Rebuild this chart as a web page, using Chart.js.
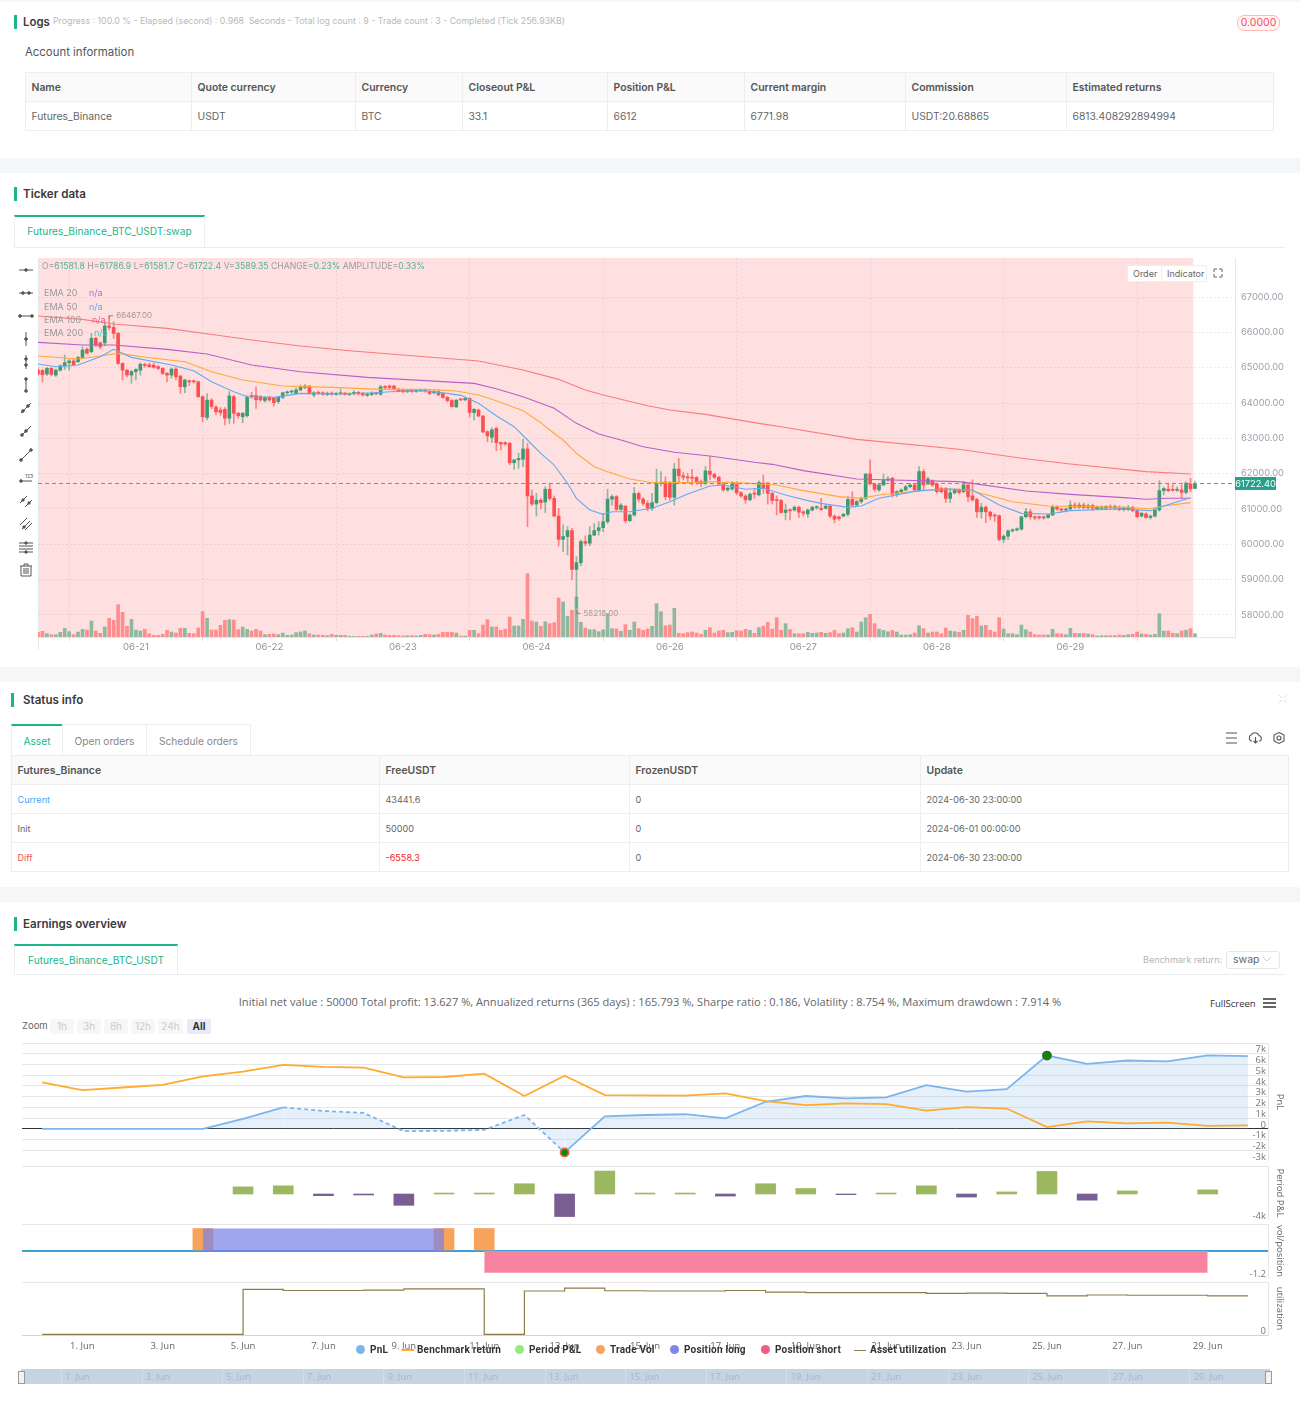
<!DOCTYPE html>
<html>
<head>
<meta charset="utf-8">
<title>Backtest result</title>
<script src="https://cdn.jsdelivr.net/npm/chart.js@4/dist/chart.umd.min.js"></script>
<style>
html, body { margin: 0; padding: 0; background: #fff; }
body { position: relative; width: 1300px; height: 1407px; overflow: hidden; font-family: Inter, "Noto Sans", sans-serif; color: #555; }
.t { position: absolute; white-space: nowrap; line-height: 14px; font-size: 11px; }
.band { position: absolute; left: 0; width: 1300px; height: 15px; background: #f5f6f8; }
.bar { position: absolute; width: 3px; height: 14px; background: #1cb58a; }
.h { font-size: 11.6px; font-weight: 600; color: #3a3a3a; }
.tab { position: absolute; box-sizing: border-box; border: 1px solid #eee; border-bottom: 0; text-align: center; font-size: 10.2px; color: #888; line-height: 29px; }
.tab.on { border-top: 2px solid #1cb58a; color: #1cb58a; }
.rule { position: absolute; height: 1px; background: #e9ecef; }
table { position: absolute; border-collapse: collapse; table-layout: fixed; font-size: 10.3px; color: #666; }
th, td { border: 1px solid #eee; padding: 0 0 0 5.5px; text-align: left; height: 28px; white-space: nowrap; }
th { background: #fafafa; font-weight: 600; color: #555; font-size: 10.4px; }
table.small td { font-size: 9.1px; }
canvas { position: absolute; display: block; }
.zb { position: absolute; top: 1019px; height: 15px; line-height: 15px; font-size: 10px; text-align: center; background: #f7f7f7; color: #ccc; border-radius: 2px; }
.leg { position: absolute; top: 1343px; font-size: 10px; font-weight: 700; color: #333; line-height: 14px; white-space: nowrap; font-family: Roboto, sans-serif; letter-spacing: .2px; }
.dot { position: absolute; top: 1345px; width: 9px; height: 9px; border-radius: 50%; }
.nav { position: absolute; top: 1369px; left: 21px; width: 1249px; height: 15px; background: #c6d3e3; }
.nl { position: absolute; top: 1371px; font-size: 9.5px; line-height: 12px; color: #a9b6c8; font-family: "Open Sans", sans-serif; }
.over { position: absolute; z-index: 5; }
</style>
</head>
<body>
<div class="band" style="top:0;height:2px"></div>
<div class="band" style="top:158px"></div>
<div class="band" style="top:667px"></div>
<div class="band" style="top:887px"></div>

<div class="bar" style="left:14px;top:15px"></div>
<div class="t h" style="left:23px;top:15px;font-size:11.4px">Logs</div>
<div class="t" style="left:53px;top:14px;font-size:8.8px;color:#b9b9b9">Progress : 100.0 % - Elapsed (second) : 0.968 &nbsp;Seconds - Total log count : 9 - Trade count : 3 - Completed (Tick 256.93KB)</div>
<div class="t" style="left:1237px;top:15px;width:41px;height:14px;border:1px solid #fbb;border-radius:7px;background:#fff5f5;color:#f5515f;text-align:center;font-size:10.5px">0.0000</div>
<div class="t" style="left:25px;top:45px;font-size:11.4px;color:#555">Account information</div>
<table style="left:25px;top:72px;width:1248px">
<colgroup><col style="width:166px"><col style="width:164px"><col style="width:107px"><col style="width:145px"><col style="width:137px"><col style="width:161px"><col style="width:161px"><col style="width:207px"></colgroup>
<tr><th>Name</th><th>Quote currency</th><th>Currency</th><th>Closeout P&amp;L</th><th>Position P&amp;L</th><th>Current margin</th><th>Commission</th><th>Estimated returns</th></tr>
<tr><td>Futures_Binance</td><td>USDT</td><td>BTC</td><td>33.1</td><td>6612</td><td>6771.98</td><td>USDT:20.68865</td><td>6813.408292894994</td></tr>
</table>

<div class="bar" style="left:14px;top:187px"></div>
<div class="t h" style="left:23px;top:187px">Ticker data</div>
<div class="rule" style="left:14px;top:247px;width:1271px"></div>
<div class="tab on" style="left:14px;top:215px;width:191px;height:32px;color:#1cb58a">Futures_Binance_BTC_USDT:swap</div>

<div id="tools"></div>
<canvas id="main" width="1252" height="399" style="left:38px;top:258px;width:1252px;height:399px"></canvas>
<div class="t over" style="left:42px;top:259px;font-size:8.65px;color:#9a9a9a">O=<span style="color:#4fb58e">61581.8</span> H=<span style="color:#4fb58e">61786.9</span> L=<span style="color:#4fb58e">61581.7</span> C=<span style="color:#4fb58e">61722.4</span> V=<span style="color:#4fb58e">3589.35</span> CHANGE=<span style="color:#4fb58e">0.23%</span> AMPLITUDE=<span style="color:#4fb58e">0.33%</span></div>
<div class="t over" style="left:44px;top:286px;font-size:9px;color:#999">EMA 20<span style="position:absolute;left:45px;color:#b56fd0">n/a</span></div>
<div class="t over" style="left:44px;top:300px;font-size:9px;color:#999">EMA 50<span style="position:absolute;left:45px;color:#5ba8ee">n/a</span></div>
<div class="t over" style="left:44px;top:313px;font-size:9px;color:#999">EMA 100<span style="position:absolute;left:48px;color:#ef5a8c">n/a</span></div>
<div class="t over" style="left:44px;top:326px;font-size:9px;color:#999">EMA 200<span style="position:absolute;left:50px;color:#3cc0c0">n/a</span></div>
<div class="over" style="left:1127px;top:265px;width:80px;height:17px;background:#fff;border:1px solid #eee;box-sizing:border-box;border-radius:2px;font-size:9px;line-height:15px;color:#666"><span style="position:absolute;left:5px">Order</span><span style="position:absolute;left:33px;top:0;height:15px;border-left:1px solid #eee;padding-left:5px">Indicator</span></div>
<svg class="over" style="left:1213px;top:268px" width="10" height="10" stroke="#666" fill="none"><path d="M1 4V1H4M6 1H9V4M9 6V9H6M4 9H1V6"/></svg>

<div class="bar" style="left:11px;top:693px"></div>
<div class="t h" style="left:23px;top:693px">Status info</div>
<svg class="over" style="left:1278px;top:694px" width="10" height="10" stroke="#ddd" fill="none"><path d="M1 1L4 4M9 1L6 4M1 9L4 6M9 9L6 6"/></svg>
<div class="tab on" style="left:11px;top:724px;width:52px;height:31px;line-height:30px">Asset</div>
<div class="tab" style="left:62px;top:724px;width:85px;height:31px;line-height:32px">Open orders</div>
<div class="tab" style="left:146px;top:724px;width:105px;height:31px;line-height:32px">Schedule orders</div>
<svg class="over" style="left:1225px;top:731px" width="62" height="14" stroke="#555" fill="none" stroke-width="1.1">
<path d="M1 2H12M1 7H12M1 12H12"/>
<path d="M27 10H26A3.5 3.5 0 0 1 26 4A4.5 4.5 0 0 1 34 4.5A3 3 0 0 1 35 10H34M30.5 6V12M28.5 10L30.5 12L32.5 10"/>
<path d="M54 1.5L59 4V10L54 12.5L49 10V4Z"/><circle cx="54" cy="7" r="2"/></svg>
<table class="small" style="left:11px;top:755px;width:1277px">
<colgroup><col style="width:368px"><col style="width:250px"><col style="width:291px"><col style="width:368px"></colgroup>
<tr><th>Futures_Binance</th><th>FreeUSDT</th><th>FrozenUSDT</th><th>Update</th></tr>
<tr><td style="color:#4aa3f5">Current</td><td>43441.6</td><td>0</td><td>2024-06-30 23:00:00</td></tr>
<tr><td>Init</td><td>50000</td><td>0</td><td>2024-06-01 00:00:00</td></tr>
<tr><td style="color:#f5515f">Diff</td><td style="color:#f5222d">-6558.3</td><td>0</td><td>2024-06-30 23:00:00</td></tr>
</table>

<div class="bar" style="left:14px;top:917px"></div>
<div class="t h" style="left:23px;top:917px">Earnings overview</div>
<div class="rule" style="left:14px;top:974px;width:1271px"></div>
<div class="tab on" style="left:14px;top:944px;width:164px;height:31px">Futures_Binance_BTC_USDT</div>
<div class="t" style="left:1143px;top:953px;font-size:9px;color:#b5b5b5">Benchmark return:</div>
<div class="t" style="left:1226px;top:951px;width:52px;height:16px;border:1px solid #e6e6e6;border-radius:3px;box-sizing:content-box;font-size:10.5px;color:#666;line-height:16px;text-indent:6px">swap</div>
<svg class="over" style="left:1262px;top:956px" width="10" height="7" stroke="#ccc" fill="none"><path d="M1 1L5 5L9 1"/></svg>
<div class="t" style="left:0;width:1300px;top:995px;text-align:center;font-size:11.1px;color:#666;font-family:'Open Sans',sans-serif">Initial net value : 50000 Total profit: 13.627 %, Annualized returns (365 days) : 165.793 %, Sharpe ratio : 0.186, Volatility : 8.754 %, Maximum drawdown : 7.914 %</div>
<div class="t" style="left:1210px;top:997px;font-size:9.5px;color:#333;font-family:'Open Sans',sans-serif">FullScreen</div>
<svg class="over" style="left:1263px;top:998px" width="13" height="10" stroke="#666" stroke-width="2"><path d="M0 1H13M0 5H13M0 9H13"/></svg>
<div class="t" style="left:22px;top:1019px;font-size:9.5px;color:#666">Zoom</div>
<div class="zb" style="left:50px;width:24px">1h</div>
<div class="zb" style="left:77px;width:24px">3h</div>
<div class="zb" style="left:104px;width:24px">8h</div>
<div class="zb" style="left:131px;width:24px">12h</div>
<div class="zb" style="left:158px;width:25px">24h</div>
<div class="zb" style="left:187px;width:24px;background:#e6ebf5;color:#333;font-weight:700">All</div>

<canvas id="paneA" width="1268" height="118" style="left:22px;top:1043px;width:1268px;height:118px"></canvas>
<canvas id="paneB" width="1268" height="54" style="left:22px;top:1166px;width:1268px;height:54px"></canvas>
<canvas id="paneC" width="1268" height="54" style="left:22px;top:1224px;width:1268px;height:54px"></canvas>
<canvas id="paneD" width="1268" height="75" style="left:22px;top:1282px;width:1268px;height:75px"></canvas>

<div class="dot" style="left:356px;background:#7cb5ec"></div><div class="leg" style="left:370px">PnL</div>
<div class="over" style="left:402px;top:1349px;width:12px;height:2px;background:#ffab2e"></div><div class="leg" style="left:417px">Benchmark return</div>
<div class="dot" style="left:515px;background:#90ed7d"></div><div class="leg" style="left:529px">Period P&amp;L</div>
<div class="dot" style="left:596px;background:#f7a35c"></div><div class="leg" style="left:610px">Trade Vol</div>
<div class="dot" style="left:670px;background:#8085e9"></div><div class="leg" style="left:684px">Position long</div>
<div class="dot" style="left:761px;background:#f15c80"></div><div class="leg" style="left:775px">Position short</div>
<div class="over" style="left:854px;top:1350px;width:12px;height:1px;background:#8c7d4b"></div><div class="leg" style="left:870px">Asset utilization</div>

<div class="nav" id="nav"></div>
<div id="navLabels"></div>

<script>
// candles
const opens = [
  64930,64920,64820,64980,64790,64930,65050,65140,65190,65170,
  65290,65520,65450,65830,65700,65700,66180,66140,65970,65120,
  64930,64790,64890,64930,65080,65080,65070,65030,64980,64840,
  64790,64960,64760,64460,64630,64630,64600,64180,63590,64080,
  63880,63800,63820,63570,64180,63710,63610,63640,64210,64210,
  64180,64070,64160,64130,64040,64160,64290,64310,64270,64370,
  64440,64480,64230,64300,64290,64240,64280,64240,64260,64280,
  64240,64260,64300,64270,64220,64240,64280,64250,64460,64480,
  64480,64390,64360,64320,64350,64330,64350,64370,64330,64290,
  64320,64270,64160,64070,63890,64110,64090,64130,63730,63800,
  63630,63190,63030,63280,62880,62880,62860,62310,62390,62410,
  62700,61370,61140,61250,61200,61560,61300,60800,60140,60220,
  60390,59290,59480,60080,60030,60260,60390,60470,60640,61280,
  61350,60990,61080,60670,60830,61440,61280,61160,61020,61180,
  61730,61770,61730,61330,62130,61940,61900,61900,61890,61780,
  61730,62070,61980,61900,61710,61540,61570,61700,61460,61370,
  61260,61440,61400,61730,61730,61440,61250,61240,60900,60970,
  60970,61050,60920,60860,60970,61040,61020,61020,61080,60800,
  60780,60800,60850,61270,61110,61210,61300,61990,61710,61540,
  61680,61820,61870,61420,61490,61540,61630,61680,61520,62060,
  61710,61800,61710,61580,61580,61300,61460,61540,61490,61680,
  61370,61270,60920,61050,60910,60830,60810,60140,60230,60380,
  60410,60430,60780,60920,60780,60780,60780,60760,60830,61050,
  61000,60970,61000,61110,61050,61110,61040,61100,61010,61020,
  61020,61070,61020,61050,60980,60980,61050,60950,60800,60860,
  60760,60800,60970,61520,61560,61550,61530,61540,61470,61700,61581.8
];
const closes = [
  64820,64800,64980,64810,64930,65050,65140,65190,65080,65290,
  65500,65410,65830,65640,65590,66180,66140,65970,65120,64930,
  64790,64890,64950,65100,65060,65030,65010,64980,64840,64790,
  64960,64740,64460,64650,64600,64600,64180,63610,64080,63900,
  63750,63730,63570,64200,63710,63640,63710,64160,64180,64090,
  64090,64150,64090,64010,64160,64290,64310,64320,64370,64440,
  64480,64270,64290,64270,64250,64280,64250,64270,64280,64240,
  64260,64300,64260,64230,64250,64280,64260,64460,64440,64440,
  64390,64340,64320,64350,64330,64360,64380,64340,64270,64320,
  64230,64160,64070,63900,64080,64090,64130,63730,63820,63630,
  63180,63070,63240,62880,62840,62840,62310,62390,62430,62700,
  61370,61140,61250,61180,61560,61300,60800,60140,60220,60390,
  59290,59480,60080,60030,60260,60390,60470,60640,61280,61350,
  60990,61110,60670,60830,61440,61280,61160,61020,61180,61730,
  61750,61350,61330,62130,61940,61900,61880,61870,61760,61730,
  62080,61980,61900,61710,61540,61590,61700,61460,61370,61260,
  61420,61420,61750,61580,61440,61240,61240,60900,60970,60950,
  61050,60910,60880,60970,61050,61050,60990,61080,60800,60710,
  60730,60850,61270,61110,61210,61300,61990,61710,61560,61680,
  61820,61840,61420,61490,61540,61630,61680,61540,62060,61680,
  61850,61680,61490,61490,61300,61460,61540,61470,61680,61350,
  61260,60920,61050,60920,60800,60800,60140,60230,60380,60410,
  60430,60780,60920,60780,60750,60750,60750,60830,61050,61000,
  60970,61000,61110,61050,61110,61040,61090,61020,61050,61050,
  61070,61040,61070,60980,61020,61050,60950,60780,60880,60760,
  60800,60970,61520,61580,61520,61530,61550,61470,61730,61570,61722.4
];
const highs = [
  64980,64950,65000,65000,64960,65080,65360,65230,65230,65320,
  65590,65560,65970,65860,65730,66300,66467,66300,66000,65140,
  64950,64920,64970,65130,65130,65130,65130,65060,65000,64860,
  64990,65000,64790,64680,64650,64650,64620,64200,64270,64130,
  63930,63870,63870,64320,64220,63730,63730,64200,64300,64460,
  64210,64180,64200,64160,64190,64310,64340,64370,64420,64510,
  64520,64500,64320,64340,64320,64310,64320,64300,64400,64300,
  64290,64350,64330,64300,64280,64320,64310,64500,64500,64510,
  64500,64420,64400,64370,64380,64390,64400,64400,64350,64370,
  64380,64290,64180,64090,64100,64120,64170,64150,63840,63830,
  63650,63210,63300,63320,62900,62900,62880,62400,62580,62970,
  62860,61540,61440,61290,61630,61730,61370,61020,60550,60500,
  60450,59650,60120,60240,60500,60590,60640,60880,61560,61400,
  61380,61150,61100,60860,61610,61480,61320,61230,61440,62130,
  62060,61910,61780,62290,62430,62030,62010,62120,61920,61820,
  62200,62480,62010,61930,61740,61620,61780,61780,61490,61400,
  61450,61580,61800,61960,61760,61470,61370,61270,61140,61000,
  61090,61080,60950,61000,61080,61090,61300,61120,61110,60830,
  60800,60880,61350,61490,61250,61340,62000,62390,61730,61710,
  61990,61920,61900,61520,61570,61670,61710,61720,62200,62120,
  61900,61830,61730,61620,61610,61580,61580,61570,61780,61720,
  61820,61300,61160,61080,60940,60860,60830,60260,60410,60440,
  60470,60800,61020,60990,60800,60800,60800,60850,61110,61090,
  61030,61030,61230,61180,61180,61170,61140,61140,61090,61090,
  61100,61120,61110,61090,61070,61100,61080,60980,60910,60890,
  60830,61010,61800,61610,61730,61690,61630,61680,61770,61870,61786.9
];
const lows = [
  64780,64600,64780,64770,64750,64900,64950,64930,65060,65140,
  65270,65380,65420,65600,65530,65620,66070,65830,65090,64650,
  64740,64560,64650,64790,65010,65000,64980,64950,64800,64600,
  64700,64650,64270,64290,64490,64560,64160,63470,63520,63840,
  63660,63650,63380,63420,63420,63570,63440,63600,64130,63850,
  64040,64020,64040,63910,63990,64120,64250,64270,64240,64340,
  64400,64240,64170,64240,64220,64210,64220,64220,64220,64220,
  64210,64230,64230,64190,64180,64210,64230,64220,64400,64410,
  64360,64320,64290,64290,64300,64300,64320,64310,64230,64260,
  64210,64130,64030,63880,63870,64060,64060,63600,63520,63610,
  63160,62900,62880,62650,62670,62800,62250,62120,62150,62200,
  60500,61100,60800,61000,60900,61250,60780,59950,59790,59700,
  58990,58218,59390,59960,59960,60240,60260,60360,60590,61110,
  60960,60950,60610,60640,60800,61200,61100,60950,60950,61140,
  61650,61260,61250,61110,61730,61820,61730,61680,61700,61630,
  61680,61820,61860,61680,61500,61500,61520,61400,61330,61160,
  61230,61300,61370,61440,61140,61140,60830,60880,60690,60690,
  60940,60760,60800,60760,60940,60990,60950,61000,60750,60610,
  60680,60770,60800,61080,61080,61160,61270,61680,61500,61500,
  61660,61780,61340,61350,61460,61510,61600,61500,61490,61540,
  61680,61640,61450,61450,61180,61180,61420,61430,61450,61210,
  61220,60760,60740,60610,60690,60640,60100,60050,60140,60350,
  60380,60400,60750,60710,60690,60710,60710,60730,60810,60960,
  60900,60920,60970,61020,61020,61010,61000,60960,60980,60990,
  60990,61000,60990,60950,60940,60950,60920,60760,60770,60740,
  60710,60770,60940,61400,61490,61500,61500,61300,61430,61490,61581.7
];
const volumes = [
  14,17,10,7,7,14,26,16,7,15,
  23,21,48,18,11,30,56,50,97,74,
  32,53,21,18,23,10,5,5,8,20,
  15,12,26,26,11,10,27,76,56,21,
  21,35,50,52,51,22,30,23,18,23,
  18,7,8,9,7,12,5,6,13,15,
  18,10,6,6,5,4,8,5,5,5,
  2,2,2,2,2,6,9,11,6,5,
  5,4,3,4,4,3,5,8,7,6,
  8,14,14,14,12,3,3,20,20,10,
  36,52,30,30,20,24,60,33,33,53,
  190,48,45,32,46,40,43,117,105,62,
  80,120,44,27,22,22,16,22,70,25,
  24,17,37,20,45,25,20,24,32,100,
  76,34,36,86,11,10,13,15,12,8,
  20,28,12,18,20,13,14,19,18,23,
  20,11,28,33,44,24,58,20,40,22,
  10,10,10,14,11,12,14,11,13,20,
  10,12,25,28,15,45,58,68,40,24,
  20,16,20,15,6,6,7,12,34,25,
  12,15,15,10,27,18,16,14,20,65,
  55,62,33,35,20,15,58,24,10,10,
  7,36,22,15,7,6,6,6,23,10,
  9,7,26,11,10,11,9,7,3,4,
  4,4,4,6,5,7,8,15,9,8,
  6,8,70,18,18,11,10,18,20,25,10
];

// moving averages, [candle, price] at the places they were read
const emaBlue = [[0,65103],[4,65028],[9,65075],[14,65311],[17,65518],[19,65405],[21,65292],[30,65075],[35,64915],[39,64603],[44,64320],[47,64179],[53,64160],[59,64273],[66,64254],[76,64292],[79,64320],[87,64348],[92,64273],[95,64216],[99,63990],[103,63641],[107,63330],[110,62953],[113,62576],[116,62245],[119,61726],[121,61302],[124,60972],[127,60849],[129,60924],[133,60924],[138,61019],[142,61207],[146,61425],[151,61651],[154,61679],[159,61557],[163,61585],[168,61396],[173,61236],[176,61160],[182,61047],[185,61085],[189,61302],[198,61519],[205,61566],[210,61538],[216,61113],[221,60877],[227,60858],[232,60953],[243,61000],[250,60953],[253,61085],[259,61321]];
const emaOrange = [[0,65330],[9,65245],[14,65330],[18,65405],[25,65282],[33,65169],[39,64886],[46,64650],[55,64480],[66,64443],[77,64386],[87,64386],[94,64339],[99,64226],[103,64066],[109,63783],[113,63443],[115,63236],[118,62953],[121,62576],[125,62198],[128,62057],[133,61849],[138,61745],[145,61745],[152,61773],[160,61726],[166,61679],[172,61519],[180,61349],[185,61302],[189,61396],[198,61509],[203,61557],[209,61537],[214,61377],[219,61207],[227,61085],[236,61066],[244,61047],[250,61009],[253,61085],[259,61179]];
const emaPurple = [[0,65717],[10,65641],[17,65641],[29,65518],[38,65386],[48,65075],[59,64886],[74,64726],[87,64632],[98,64556],[103,64405],[109,64179],[116,63849],[121,63424],[126,63122],[131,62953],[136,62764],[143,62604],[151,62500],[161,62321],[165,62264],[172,62085],[184,61849],[192,61821],[207,61774],[210,61726],[222,61509],[232,61415],[244,61321],[249,61274],[254,61302],[259,61302]];
const emaRed = [[0,66462],[10,66368],[17,66235],[29,66113],[40,65924],[48,65783],[59,65613],[70,65481],[87,65311],[99,65188],[109,64934],[117,64669],[123,64367],[127,64226],[137,63924],[142,63801],[150,63679],[162,63424],[167,63330],[184,62971],[207,62689],[221,62434],[232,62274],[249,62057],[259,61990]];

const lastPrice = 61722.4;
const highPrice = 66467;
const lowPrice = 58218;
const highCandle = 16;
const lowCandle = 121;
const shadeEnd = 259.6;
const slotCount = 270;
const priceTicks = [58000,59000,60000,61000,62000,63000,64000,65000,66000,67000];
const tickCandles = [22,52,82,112,142,172,202,232];
const tickNames = ['06-21','06-22','06-23','06-24','06-26','06-27','06-28','06-29'];

// earnings panes, one value per day
const days = ['31. May','1. Jun','2. Jun','3. Jun','4. Jun','5. Jun','6. Jun','7. Jun','8. Jun','9. Jun','10. Jun','11. Jun','12. Jun','13. Jun','14. Jun','15. Jun','16. Jun','17. Jun','18. Jun','19. Jun','20. Jun','21. Jun','22. Jun','23. Jun','24. Jun','25. Jun','26. Jun','27. Jun','28. Jun','29. Jun','30. Jun'];
const pnl = [0,0,0,0,0,930,2000,1670,1480,-220,-190,-100,1290,-2200,1170,1290,1360,980,2520,3060,2840,2930,4070,3470,3690,6830,6060,6370,6280,6850,6780];
const benchmark = [4320,3600,3850,4100,4890,5330,5960,5770,5710,4790,4830,5140,3060,4950,3150,3120,3090,3310,2590,2210,2370,2300,1700,2020,1890,160,690,500,570,280,320];
const periodPnl = [null,null,null,null,null,1100,1260,-260,-150,-1740,150,150,1580,-3470,3530,150,150,-320,1580,840,-100,150,1260,-470,320,3470,-950,470,null,630,null];
const tradeVol = [null,null,null,null,1,null,null,null,null,null,1,1,null,null,null,null,null,null,null,null,null,null,null,null,null,null,null,null,null,null,null];
const positionLong = [null,null,null,null,1,1,1,1,1,1,1,null,null,null,null,null,null,null,null,null,null,null,null,null,null,null,null,null,null,null,null];
const positionShort = [null,null,null,null,null,null,null,null,null,null,null,-0.97,-0.97,-0.97,-0.97,-0.97,-0.97,-0.97,-0.97,-0.97,-0.97,-0.97,-0.97,-0.97,-0.97,-0.97,-0.97,-0.97,-0.97,-0.97,null];
const utilization = [1,1,1,1,1,86,84,84,84.5,87,87,1,83,88.5,83.5,83,83,84,81,80,80,80,78.5,79,78.5,74,75.5,75,75,74,74];
const pnlTicks = [-3000,-2000,-1000,0,1000,2000,3000,4000,5000,6000,7000,8000];
const markerDays = [13,25];
const dashedFrom = 6;
const dashedTo = 13;

const upColor = '#3d9b72';
const downColor = '#fd4f52';
const font = 'Inter, sans-serif';
const hcFont = '"Open Sans", sans-serif';

Chart.defaults.animation = false;
Chart.defaults.responsive = false;
Chart.defaults.plugins.legend.display = false;
Chart.defaults.plugins.tooltip.enabled = false;

function sparse(points, size) {
  const out = new Array(size).fill(null);
  points.forEach(function (p) { out[p[0]] = p[1]; });
  return out;
}

function noPad(scale, size) {
  scale.paddingTop = 0; scale.paddingBottom = 0; scale.paddingLeft = 0; scale.paddingRight = 0;
  if (scale.isHorizontal()) { scale.height = size; } else { scale.width = size; }
}

function fixedTicks(values) {
  return function (s) { s.ticks = values.map(function (v) { return { value: v }; }); };
}

function emaSet(points, color) {
  return { type: 'line', data: sparse(points, slotCount), borderColor: color, borderWidth: 1.1, pointRadius: 0, spanGaps: true, order: 2 };
}

const candleLabels = Array.from({ length: slotCount }, function (_, i) {
  const at = tickCandles.indexOf(i);
  return at >= 0 ? tickNames[at] : String(i);
});
const candleColor = closes.map(function (c, i) { return c >= opens[i] ? upColor : downColor; });
const wickColor = closes.map(function (c, i) { return c >= opens[i] ? 'rgba(61,155,114,0.6)' : 'rgba(253,79,82,0.65)'; });
const volumeColor = closes.map(function (c, i) { return c >= opens[i] ? '#8fb8a0' : '#fe8d8e'; });

const mainDecor = {
  id: 'mainDecor',
  beforeDraw: function (chart) {
    const c = chart.ctx, a = chart.chartArea, x = chart.scales.x;
    c.save();
    c.fillStyle = '#ffe0e0';
    c.fillRect(a.left, a.top, x.getPixelForValue(shadeEnd) - a.left, a.bottom - a.top);
    c.strokeStyle = '#e4e7ec';
    c.beginPath();
    c.moveTo(a.left + 0.5, a.top);
    c.lineTo(a.left + 0.5, a.bottom + 13);
    c.stroke();
    c.restore();
  },
  afterDatasetsDraw: function (chart) {
    const c = chart.ctx, x = chart.scales.x, y = chart.scales.y, a = chart.chartArea;
    c.save();
    c.font = '8px ' + font;
    c.textBaseline = 'middle';
    c.fillStyle = '#a3979a';
    c.strokeStyle = '#8c8486';
    const hx = x.getPixelForValue(highCandle), hy = y.getPixelForValue(highPrice);
    c.beginPath();
    c.moveTo(hx, hy + 3); c.lineTo(hx, hy); c.lineTo(hx + 4, hy);
    c.stroke();
    c.fillText(highPrice.toFixed(2), hx + 7, hy);
    const lx = x.getPixelForValue(lowCandle), ly = y.getPixelForValue(lowPrice) + 6;
    c.beginPath();
    c.moveTo(lx, ly - 3); c.lineTo(lx, ly); c.lineTo(lx + 4, ly);
    c.stroke();
    c.fillText(lowPrice.toFixed(2), lx + 7, ly);
    const py = y.getPixelForValue(lastPrice);
    c.fillStyle = '#26a08a';
    c.fillRect(a.right, py - 6.5, 41, 13);
    c.fillStyle = '#fff';
    c.font = '9.3px ' + font;
    c.textAlign = 'center';
    c.fillText(lastPrice.toFixed(2), a.right + 20.5, py + 0.5);
    c.restore();
  }
};

new Chart(document.getElementById('main'), {
  data: {
    labels: candleLabels,
    datasets: [
      emaSet(emaBlue, '#62acf2'),
      emaSet(emaOrange, '#fda93a'),
      emaSet(emaPurple, '#b760cc'),
      emaSet(emaRed, '#fb7b7c'),
      { type: 'line', data: sparse([[0, lastPrice], [slotCount - 1, lastPrice]], slotCount), borderColor: '#25bd9c', borderWidth: 1, borderDash: [4, 3], pointRadius: 0, spanGaps: true, order: 1 },
      { type: 'bar', data: opens.map(function (o, i) { return [o, closes[i]]; }), backgroundColor: candleColor, barThickness: 3, minBarLength: 1, grouped: false, order: 3 },
      { type: 'bar', data: lows.map(function (l, i) { return [l, highs[i]]; }), backgroundColor: wickColor, barThickness: 1, grouped: false, order: 4 },
      { type: 'bar', data: volumes, yAxisID: 'vol', backgroundColor: volumeColor, barThickness: 3, grouped: false, order: 5 }
    ]
  },
  options: {
    layout: { padding: 0 },
    scales: {
      x: {
        type: 'category', offset: false,
        afterBuildTicks: function (s) { s.ticks = s.ticks.filter(function (t) { return tickCandles.includes(t.value); }); },
        afterFit: function (s) { noPad(s, 20); },
        grid: { color: 'rgba(120,110,120,0.13)', tickColor: '#d8dbe0', tickLength: 4 },
        border: { color: '#e4e7ec', dash: [2, 2] },
        ticks: { autoSkip: false, maxRotation: 0, color: '#8e939c', font: { family: font, size: 9.6 }, padding: 0 }
      },
      y: {
        position: 'right', min: 57377, max: 68104,
        afterBuildTicks: fixedTicks(priceTicks),
        afterFit: function (s) { noPad(s, 55); },
        grid: { color: 'rgba(120,110,120,0.13)', drawTicks: false },
        border: { color: '#e4e7ec', dash: [2, 2] },
        ticks: { autoSkip: false, padding: 6, color: '#9aa0aa', font: { family: font, size: 9.3 }, callback: function (v) { return v.toFixed(2); } }
      },
      vol: { display: false, min: 0, max: 1137 }
    }
  },
  plugins: [mainDecor]
});

function paneX(showTicks) {
  return {
    type: 'category', offset: true, display: showTicks,
    grid: { display: false, drawOnChartArea: false, tickColor: '#ccd6eb', tickLength: 5 },
    border: { color: '#ccd6eb' },
    afterBuildTicks: function (s) { s.ticks = s.ticks.filter(function (t) { return t.value % 2 === 1; }); },
    afterFit: function (s) { noPad(s, showTicks ? 22 : 0); },
    ticks: { autoSkip: false, maxRotation: 0, padding: 1, color: '#666', font: { family: hcFont, size: 9.5 } }
  };
}

function paneY(min, max, title, values, label, extra) {
  return Object.assign({
    position: 'right', min: min, max: max,
    afterBuildTicks: fixedTicks(values),
    afterFit: function (s) { noPad(s, 22); },
    grid: { color: '#e6e6e6', drawTicks: false },
    border: { color: '#e6e6e6' },
    title: { display: true, text: title, color: '#666', font: { family: hcFont, size: 9.5 }, padding: { top: 5, bottom: 0 } },
    ticks: { autoSkip: false, mirror: true, padding: -2, labelOffset: -4, color: '#777', font: { family: hcFont, size: 9.5 }, callback: label }
  }, extra);
}

new Chart(document.getElementById('paneA'), {
  data: {
    labels: days,
    datasets: [
      { type: 'line', data: benchmark, borderColor: '#ffab2e', borderWidth: 1.8, pointRadius: 0, order: 1 },
      {
        type: 'line', data: pnl, borderColor: '#7cb5ec', borderWidth: 1.8, fill: 'origin', backgroundColor: 'rgba(124,181,236,0.2)',
        segment: { borderDash: function (ctx) { return ctx.p0DataIndex >= dashedFrom && ctx.p0DataIndex < dashedTo ? [4, 3] : undefined; } },
        pointRadius: function (ctx) { return markerDays.includes(ctx.dataIndex) ? 4 : 0; },
        pointBackgroundColor: '#0a8a0a', pointBorderColor: function (ctx) { return ctx.dataIndex === markerDays[0] ? '#e8604c' : '#2b6b2b'; },
        order: 2
      }
    ]
  },
  options: {
    scales: {
      x: paneX(false),
      y: paneY(-3000, 8000, 'PnL', pnlTicks, function (v) {
        if (v === 8000) return '';
        return v === 0 ? '0' : (v / 1000) + 'k';
      }, {
        grid: { drawTicks: false, color: function (ctx) { return ctx.tick.value === 0 ? '#333' : '#e6e6e6'; } }
      })
    }
  }
});

new Chart(document.getElementById('paneB'), {
  data: {
    labels: days,
    datasets: [{
      type: 'bar', data: periodPnl, barThickness: 20,
      backgroundColor: periodPnl.map(function (v) { return v < 0 ? '#785e91' : '#9bb75f'; })
    }]
  },
  options: {
    scales: {
      x: paneX(false),
      y: paneY(-4000, 4310, 'Period P&L', [-4000, 4310], function (v) { return v === -4000 ? '-4k' : ''; })
    }
  }
});

new Chart(document.getElementById('paneC'), {
  data: {
    labels: days,
    datasets: [
      { type: 'bar', data: tradeVol, barThickness: 20, backgroundColor: '#f7a35c', order: 3 },
      { type: 'line', data: positionLong, borderWidth: 0, pointRadius: 0, fill: 'origin', backgroundColor: 'rgba(124,130,232,0.72)', order: 2 },
      { type: 'line', data: positionShort, borderWidth: 0, pointRadius: 0, fill: 'origin', backgroundColor: '#f783a0', order: 1 }
    ]
  },
  options: {
    scales: {
      x: paneX(false),
      y: paneY(-1.2, 1.2, 'vol/position', [-1.2, 0, 1.2], function (v) { return v === -1.2 ? '-1.2' : ''; }, {
        grid: {
          drawTicks: false,
          color: function (ctx) { return ctx.tick.value === 0 ? '#3a9fd6' : '#e6e6e6'; },
          lineWidth: function (ctx) { return ctx.tick.value === 0 ? 2 : 1; }
        }
      })
    }
  }
});

new Chart(document.getElementById('paneD'), {
  data: {
    labels: days,
    datasets: [{ type: 'line', data: utilization, stepped: 'before', borderColor: '#8c7d4b', borderWidth: 1.2, pointRadius: 0 }]
  },
  options: {
    scales: {
      x: paneX(true),
      y: paneY(0, 100, 'utilization', [0, 100], function (v) { return v === 0 ? '0' : ''; })
    }
  }
});

// navigator strip under the panes
let navHtml = '';
for (let d = 1; d <= 29; d += 2) {
  const left = 65 + (d - 1) * 40.3;
  navHtml += '<div class="nl" style="left:' + left + 'px">' + d + '. Jun</div>';
  navHtml += '<div style="position:absolute;left:' + (left - 4) + 'px;top:1369px;width:1px;height:15px;background:#d3dde9"></div>';
}
navHtml += '<div style="position:absolute;left:18px;top:1371px;width:5px;height:11px;background:#f2f2f2;border:1px solid #999"></div>';
navHtml += '<div style="position:absolute;left:1265px;top:1371px;width:5px;height:11px;background:#f2f2f2;border:1px solid #999"></div>';
document.getElementById('navLabels').innerHTML = navHtml;

// drawing tools column
const toolMarks = [
  [270, '<path d="M-7 0H7"/><circle r="1.3" fill="#555"/>'],
  [293, '<path d="M-7 0H7"/><circle cx="-3" r="1.3" fill="#555"/><circle cx="3" r="1.3" fill="#555"/>'],
  [316, '<path d="M-7 0H7"/><circle cx="-6" r="1.3" fill="#555"/><circle cx="6" r="1.3" fill="#555"/>'],
  [339, '<path d="M0 -7V7"/><circle r="1.3" fill="#555"/>'],
  [362, '<path d="M0 -7V7"/><circle cy="-3" r="1.3" fill="#555"/><circle cy="3" r="1.3" fill="#555"/>'],
  [385, '<path d="M0 -7V7"/><circle cy="-6" r="1.3" fill="#555"/><circle cy="6" r="1.3" fill="#555"/>'],
  [408, '<path d="M-5 5L5 -5"/><circle cx="-3" cy="3" r="1.3" fill="#555"/><circle cx="2" cy="-2" r="1.3" fill="#555"/>'],
  [431, '<path d="M-5 5L5 -5"/><circle cx="-4" cy="4" r="1.3" fill="#555"/><circle r="1.3" fill="#555"/>'],
  [455, '<path d="M-5 5L5 -5"/><circle cx="-5" cy="5" r="1.3" fill="#555"/><circle cx="5" cy="-5" r="1.3" fill="#555"/>'],
  [478, '<path d="M-5 3H6"/><circle cx="-5" cy="3" r="1.3" fill="#555"/><text x="-1" y="0" font-size="5" stroke="none" fill="#555">123</text>'],
  [501, '<path d="M-6 2L1 -5M-1 6L6 -1"/><circle cx="-3" cy="-1" r="1.2" fill="#555"/><circle cx="3" cy="2" r="1.2" fill="#555"/>'],
  [524, '<path d="M-6 1L1 -6M-4 5L4 -3M-1 6L6 -1"/><circle cx="-2" cy="3" r="1.2" fill="#555"/>'],
  [547, '<path d="M-7 -4H7M-7 -1H7M-7 2H7M-7 5H7"/><circle cx="0" cy="-4" r="1.2" fill="#555"/><circle cx="0" cy="5" r="1.2" fill="#555"/>'],
  [570, '<path d="M-6 -4H6M-2 -4V-6H2V-4M-5 -4V6H5V-4M-2 -2V4M0 -2V4M2 -2V4"/>']
];
document.getElementById('tools').innerHTML = '<svg style="position:absolute;left:14px;top:258px" width="24" height="325" stroke="#555" fill="none" stroke-width="1">' +
  toolMarks.map(function (m) { return '<g transform="translate(12,' + (m[0] - 258) + ')">' + m[1] + '</g>'; }).join('') + '</svg>';
</script>
</body>
</html>
